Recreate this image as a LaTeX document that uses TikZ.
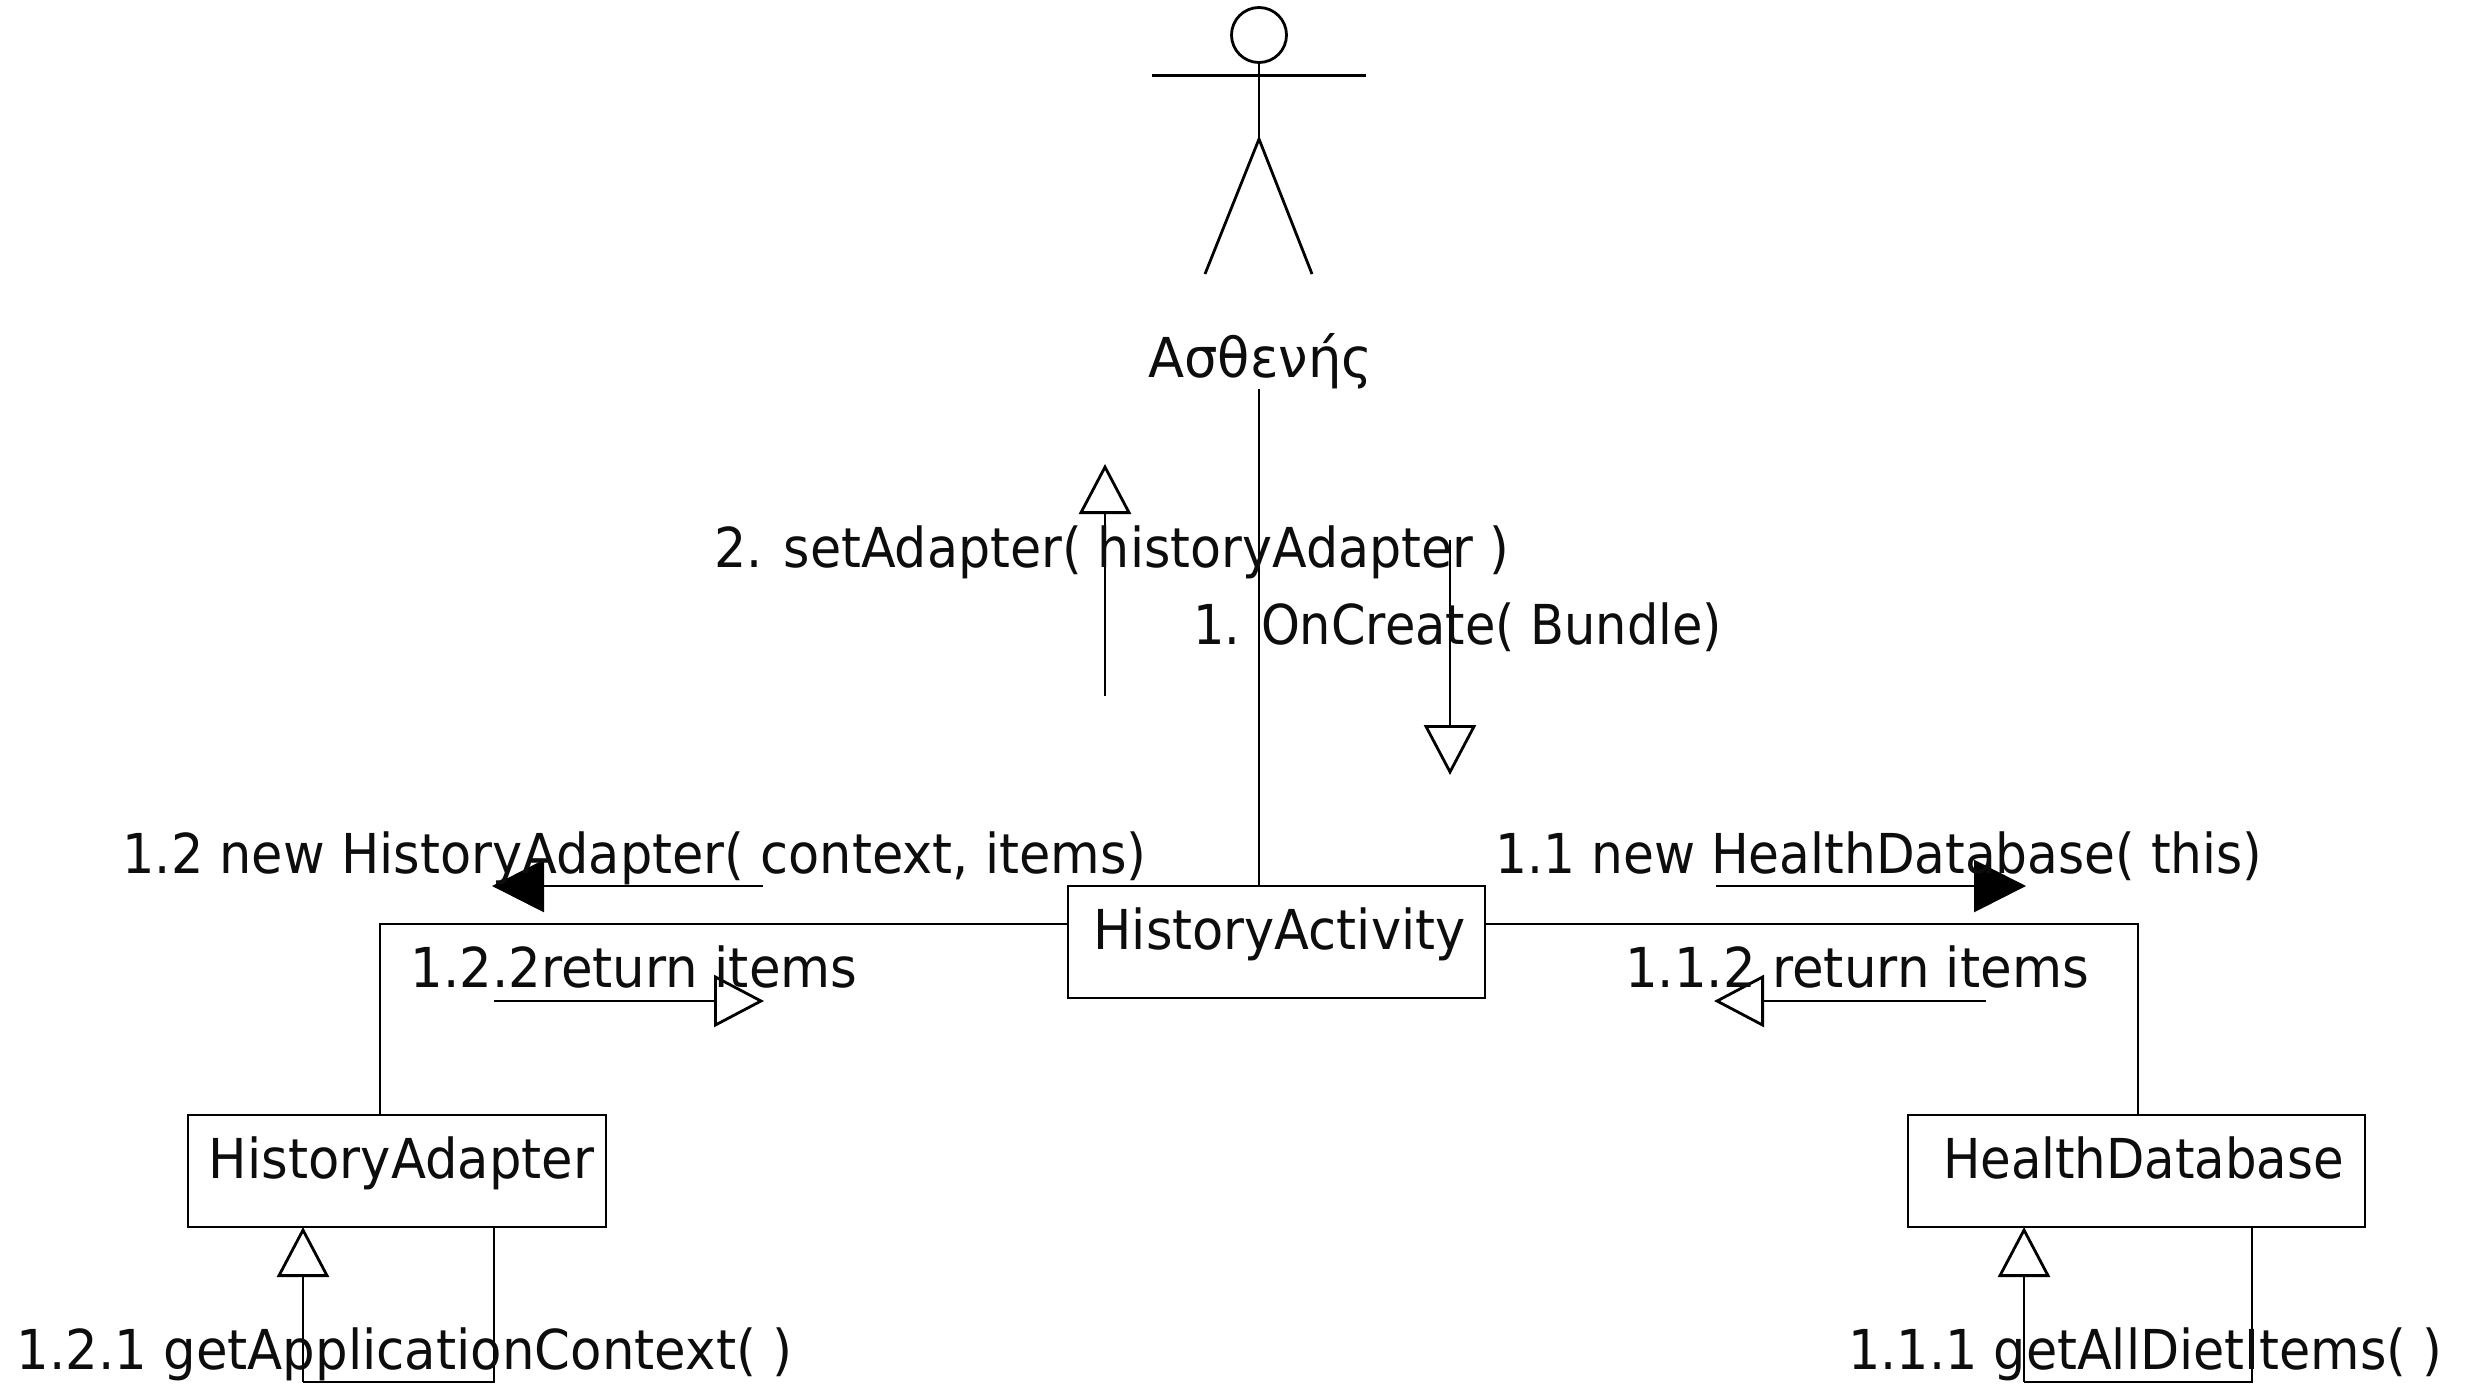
\documentclass[tikz,border=0pt]{standalone}
\usepackage{fontspec}
\usepackage{graphicx}
\setmainfont{DejaVu Sans}
\usetikzlibrary{arrows.meta}
\newcommand\fitw[2]{\resizebox{#1pt}{\height}{#2}}
% box label: shifted from the box centre by dx to the right, baseline dy under the centre
\newcommand\boxtext[4]{\hspace*{#1pt}\raisebox{-#2pt}[0pt][0pt]{\fitw{#3}{#4}}}
\tikzset{
  line/.style={line width=2.8pt,draw=black,line cap=butt,line join=miter},
  msg/.style={font=\fontsize{55}{60}\selectfont,inner sep=0pt,outer sep=0pt,anchor=base west,text=black!95},
  objbox/.style={line,fill=none,inner sep=0pt,outer sep=0pt,font=\fontsize{55}{60}\selectfont,text=black!95},
  openhead/.style={line,-{Triangle[open,length=50pt,width=52pt,line width=2.8pt]}},
  solidhead/.style={line,-{Triangle[length=52pt,width=52pt]}},
  head/.style={line,circle,inner sep=0pt,outer sep=0pt,minimum size=55pt}
}
\begin{document}
\begin{tikzpicture}[x=1pt,y=-1pt]
\useasboundingbox (0,0) rectangle (2471,1384);
% actor
\node[head] (actorhead) at (1259,35) {};
\coordinate (armL) at (1152,75.5);
\coordinate (armR) at (1366,75.5);
\coordinate (hip) at (1259,139);
\coordinate (legL) at (1205,274);
\coordinate (legR) at (1312,274);
\draw[line] (actorhead.south) -- (hip);
\draw[line] (armL) -- (armR);
\draw[line] (legL) -- (hip) -- (legR);
\node[msg] (actorname) at (1148.5,377) {\fitw{224}{Ασθενής}};
% objects
\node[objbox,minimum width=417pt,minimum height=112pt] (act) at (1276.5,942) {\boxtext{6}{7}{372}{HistoryActivity}};
\node[objbox,minimum width=418pt,minimum height=112pt] (ha) at (397,1171) {\boxtext{9}{7.5}{385}{HistoryAdapter}};
\node[objbox,minimum width=457pt,minimum height=112pt] (hd) at (2136.5,1171) {\boxtext{14}{7.5}{401}{HealthDatabase}};
% links
\coordinate (lifetop) at (1259,389);
\draw[line] (lifetop) -- (lifetop |- act.north);
\coordinate (bendL) at (380,924);
\coordinate (bendR) at (2138,924);
\draw[line] (act.west |- bendL) -- (bendL) -- (bendL |- ha.north);
\draw[line] (act.east |- bendR) -- (bendR) -- (bendR |- hd.north);
% self loops
\coordinate (loopLa) at (303,1382);
\coordinate (loopLb) at (494,1382);
\coordinate (loopRa) at (2024,1382);
\coordinate (loopRb) at (2252,1382);
\draw[line] (loopLb |- ha.south) -- (loopLb) -- (loopLa);
\draw[openhead] (loopLa) -- (loopLa |- ha.south);
\draw[line] (loopRb |- hd.south) -- (loopRb) -- (loopRa);
\draw[openhead] (loopRa) -- (loopRa |- hd.south);
% message arrows
\coordinate (m2a) at (1105,696);  \coordinate (m2b) at (1105,464);
\coordinate (m1a) at (1450,540);  \coordinate (m1b) at (1450,775);
\coordinate (m12a) at (763,886);  \coordinate (m12b) at (492,886);
\coordinate (m122a) at (494,1001); \coordinate (m122b) at (764,1001);
\coordinate (m11a) at (1716,886); \coordinate (m11b) at (2026,886);
\coordinate (m112a) at (1986,1001); \coordinate (m112b) at (1714,1001);
\draw[openhead] (m2a) -- (m2b);
\draw[openhead] (m1a) -- (m1b);
\draw[solidhead] (m12a) -- (m12b);
\draw[openhead] (m122a) -- (m122b);
\draw[solidhead] (m11a) -- (m11b);
\draw[openhead] (m112a) -- (m112b);
% labels
\node[msg] (t2) at (714,567) {\fitw{795}{2. setAdapter( historyAdapter )}};
\node[msg] (t1) at (1193,644) {\fitw{529}{1. OnCreate( Bundle)}};
\node[msg] (t12) at (122.5,873) {\fitw{1024}{1.2 new HistoryAdapter( context, items)}};
\node[msg] (t11) at (1495.5,873) {\fitw{767}{1.1 new HealthDatabase( this)}};
\node[msg] (t122) at (410.5,987) {\fitw{447}{1.2.2return items}};
\node[msg] (t112) at (1625,987) {\fitw{464}{1.1.2 return items}};
\node[msg] (t121) at (16.5,1369) {\fitw{776}{1.2.1 getApplicationContext( )}};
\node[msg] (t111) at (1848.5,1369) {\fitw{594}{1.1.1 getAllDietItems( )}};
\end{tikzpicture}
\end{document}
